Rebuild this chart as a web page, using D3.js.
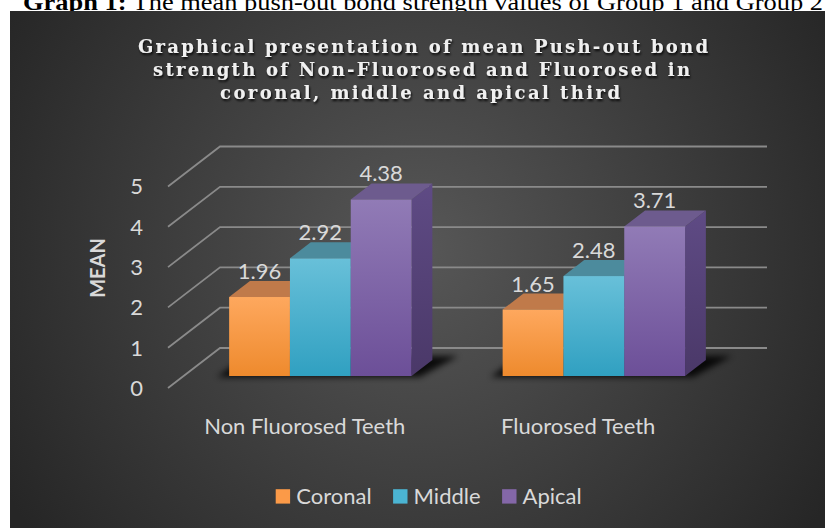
<!DOCTYPE html>
<html><head><meta charset="utf-8">
<script src="https://cdn.jsdelivr.net/npm/d3@7"></script>
<style>
html,body{margin:0;padding:0;background:#fff;}
svg{display:block;}
</style></head>
<body>
<svg id="chart" width="825" height="528"></svg>
<script>
// ---------- data ----------
const categories = ["Non Fluorosed Teeth", "Fluorosed Teeth"];
const seriesNames = ["Coronal", "Middle", "Apical"];
const coronal = [1.96, 1.65];
const middle = [2.92, 2.48];
const apical = [4.38, 3.71];
const yTicks = [0, 1, 2, 3, 4, 5];
const titleLines = [
  "Graphical presentation of mean Push-out bond",
  "strength of Non-Fluorosed and Fluorosed in",
  "coronal, middle and apical third"
];
const caption = "Graph 1: The mean push-out bond strength values of Group 1 and Group 2";
const yTitle = "MEAN";

const seriesValues = [coronal, middle, apical];
const frontColors = [["#fea85e", "#ee8a2d"], ["#68c0d9", "#30a0c1"], ["#917bb6", "#6c4f98"]];
const topColors = ["#c07a4a", "#4c8b9d", "#6d5b8e"];
const sideColors = [["#b8692e", "#a65a22"], ["#2f8aa5", "#237891"], ["#5f4b85", "#4a3868"]];
const legendColors = ["#fb9a48", "#4bb4d2", "#8467a8"];

const svg = d3.select("#chart");
const defs = svg.append("defs");

// caption (partly hidden under the chart box, as in the source page)
const cap = svg.append("text").attr("x", 23).attr("y", 10)
  .attr("font-family", "Liberation Serif, Times New Roman, serif").attr("font-size", 24)
  .attr("fill", "#000").attr("textLength", 800).attr("lengthAdjust", "spacingAndGlyphs");
cap.append("tspan").attr("font-weight", "bold").text("Graph 1:");
cap.append("tspan").text(caption.replace("Graph 1:", ""));

// background
const bg = defs.append("radialGradient").attr("id", "bg")
  .attr("gradientUnits", "userSpaceOnUse").attr("cx", 420).attr("cy", 250).attr("r", 480);
bg.append("stop").attr("offset", 0).attr("stop-color", "#575757");
bg.append("stop").attr("offset", 1).attr("stop-color", "#262626");
svg.append("rect").attr("x", 10).attr("y", 11).attr("width", 815).attr("height", 517).attr("fill", "url(#bg)");

// filters
const ts = defs.append("filter").attr("id", "tshadow").attr("x", "-10%").attr("y", "-30%").attr("width", "120%").attr("height", "160%");
ts.append("feDropShadow").attr("dx", 1).attr("dy", 2).attr("stdDeviation", 1.3).attr("flood-color", "#000").attr("flood-opacity", 0.85);
const blur = defs.append("filter").attr("id", "blur").attr("x", "-20%").attr("y", "-50%").attr("width", "140%").attr("height", "200%");
blur.append("feGaussianBlur").attr("stdDeviation", 3);

// gradients for bar faces
seriesNames.forEach((s, i) => {
  const g = defs.append("linearGradient").attr("id", "front" + i).attr("x1", 0).attr("y1", 0).attr("x2", 0).attr("y2", 1);
  g.append("stop").attr("offset", 0).attr("stop-color", frontColors[i][0]);
  g.append("stop").attr("offset", 1).attr("stop-color", frontColors[i][1]);
  const g2 = defs.append("linearGradient").attr("id", "side" + i).attr("x1", 0).attr("y1", 0).attr("x2", 0).attr("y2", 1);
  g2.append("stop").attr("offset", 0).attr("stop-color", sideColors[i][0]);
  g2.append("stop").attr("offset", 1).attr("stop-color", sideColors[i][1]);
});

// title
const titleX = [138, 153, 220];
const titleW = [570, 537, 400];
const titleY = [53, 76, 99];
titleLines.forEach((t, i) => {
  svg.append("text").attr("x", titleX[i]).attr("y", titleY[i])
    .attr("font-family", "DejaVu Serif, Liberation Serif, serif").attr("font-weight", "bold")
    .attr("font-size", 18).attr("fill", "#f0f0f0")
    .attr("textLength", titleW[i]).attr("lengthAdjust", "spacing")
    .attr("filter", "url(#tshadow)").text(t);
});

// ---------- geometry ----------
const X0 = 168, Y0 = 388, FLOORW = 547, DX = 52, DY = 40;
const h = d3.scaleLinear().domain([0, 5]).range([0, 201.5]);
const x = d3.scaleBand().domain(categories).range([X0, X0 + FLOORW]).paddingInner(0.333).paddingOuter(0.1665);
const xs = d3.scaleBand().domain(seriesNames).range([0, x.bandwidth()]);
const tFront = 0.3, tBack = 0.7;
const fdx = DX * tFront, fdy = DY * tFront;
const bdx = DX * (tBack - tFront), bdy = DY * (tBack - tFront);

// gridlines (side wall + back wall)
const grid = svg.append("g");
yTicks.forEach(v => {
  const yf = Y0 - h(v), yb = Y0 - DY - h(v);
  grid.append("polyline")
    .attr("points", [[X0, yf], [X0 + DX, yb], [X0 + DX + FLOORW, yb]].map(p => p.join(",")).join(" "))
    .attr("fill", "none").attr("stroke", "#8a8a8a").attr("stroke-width", 1.8);
});

// y tick labels
const labelFont = "Lato, Open Sans, sans-serif";
svg.append("g").selectAll("text").data(yTicks).join("text")
  .attr("x", 143).attr("y", d => Y0 - h(d)).attr("dy", "0.36em")
  .attr("text-anchor", "end").attr("font-family", labelFont).attr("font-size", 22)
  .attr("fill", "#d9d9d9").text(d => d);

// y title
svg.append("text").attr("transform", "translate(105,268) rotate(-90)")
  .attr("text-anchor", "middle").attr("font-family", labelFont).attr("font-weight", "bold")
  .attr("font-size", 20).attr("fill", "#d9d9d9").text(yTitle);

// shadows under the groups
const baseY = Y0 - fdy;
categories.forEach(c => {
  const xl = x(c) + fdx, xr = xl + x.bandwidth();
  svg.append("polygon")
    .attr("points", [[xl - 12, baseY + 1], [xr + 8, baseY + 1], [xr + bdx + 26, baseY - bdy - 4], [xl + bdx - 4, baseY - bdy - 4]].map(p => p.join(",")).join(" "))
    .attr("fill", "#000").attr("opacity", 0.85).attr("filter", "url(#blur)");
});

// bars
const bars = svg.append("g");
categories.forEach((c, ci) => {
  seriesNames.forEach((s, si) => {
    const v = seriesValues[si][ci];
    const xl = x(c) + xs(s) + fdx, w = xs.bandwidth();
    const yb = baseY, yt = baseY - h(v);
    const g = bars.append("g");
    g.append("polygon")
      .attr("points", [[xl + w, yb], [xl + w + bdx, yb - bdy], [xl + w + bdx, yt - bdy], [xl + w, yt]].map(p => p.join(",")).join(" "))
      .attr("fill", `url(#side${si})`);
    g.append("polygon")
      .attr("points", [[xl, yt], [xl + bdx, yt - bdy], [xl + w + bdx, yt - bdy], [xl + w, yt]].map(p => p.join(",")).join(" "))
      .attr("fill", topColors[si]);
    g.append("rect").attr("x", xl).attr("y", yt).attr("width", w).attr("height", yb - yt)
      .attr("fill", `url(#front${si})`);
  });
});

// value labels
categories.forEach((c, ci) => {
  seriesNames.forEach((s, si) => {
    const v = seriesValues[si][ci];
    svg.append("text")
      .attr("x", x(c) + xs(s) + fdx + xs.bandwidth() / 2)
      .attr("y", baseY - h(v) - 18)
      .attr("text-anchor", "middle").attr("font-family", labelFont).attr("font-size", 22)
      .attr("fill", "#d9d9d9").text(v.toFixed(2));
  });
});

// category labels
svg.append("g").selectAll("text").data(categories).join("text")
  .attr("x", d => x(d) + x.bandwidth() / 2).attr("y", 434)
  .attr("text-anchor", "middle").attr("font-family", labelFont).attr("font-size", 22)
  .attr("fill", "#d9d9d9").text(d => d);

// legend
const leg = svg.append("g");
let lx = 0;
seriesNames.forEach((s, i) => {
  const gi = leg.append("g");
  gi.append("rect").attr("x", 0).attr("y", -14.8).attr("width", 14.4).attr("height", 14.4).attr("fill", legendColors[i]);
  const t = gi.append("text").attr("x", 20.5).attr("y", 0).attr("font-family", labelFont).attr("font-size", 22)
    .attr("fill", "#d9d9d9").text(s);
  const tw = t.node().getComputedTextLength();
  gi.attr("transform", `translate(${lx},0)`);
  lx += 20.5 + tw + 21.5;
});
const legW = lx - 21.5;
leg.attr("transform", `translate(${428.7 - legW / 2},504)`);
</script>
</body></html>
